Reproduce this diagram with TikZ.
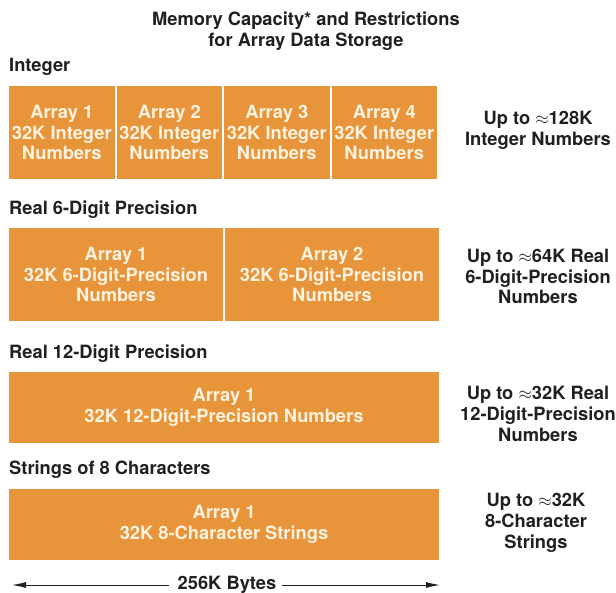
\documentclass[tikz,border=0pt]{standalone}
\usepackage{amsmath, amssymb}
\usepackage{fontspec}
\setmainfont{TeX Gyre Heros}
\usepackage{xcolor}
\usetikzlibrary{calc, arrows.meta}
\definecolor{memorange}{RGB}{232,148,58}
\definecolor{memcream}{RGB}{255,243,224}
\definecolor{meminkk}{RGB}{32,32,34}
\tikzset{
  memtxt/.style = {align=center, inner sep=0pt, text centered,
    font=\bfseries\fontsize{18.3}{20.7}\selectfont, text=meminkk},
  mem_box/.style = {memtxt, rectangle, fill=memorange, text=memcream,
    minimum height=93pt},% bloc de tableau, haut
  mem_bar/.style = {memtxt, rectangle, fill=memorange, text=memcream,
    minimum height=71pt, minimum width=430pt},% bloc de tableau, bas
  mem_hdr/.style = {memtxt, anchor=west},% titre de ligne
  mem_cap/.style = {memtxt}% capacite
}

\begin{document}
\begin{tikzpicture}[x=1pt, y=-1pt]
\useasboundingbox (0,0) rectangle (616,593);

\node[memtxt] (title) at (306,31) {Memory Capacity* and Restrictions\\for Array Data Storage};

% Integer
\node[mem_hdr] (h1) at (9,67) {Integer};
\foreach \k in {1,...,4}
  \node[mem_box, minimum width=105.5pt] (i\k) at ({9+107.5*(\k-1)+52.75},132.5)
    {Array \k\\32K Integer\\Numbers};
\node[mem_cap] (c1) at (538,130.5) {Up to $\approx$128K\\Integer Numbers};

% Real 6
\node[mem_hdr] (h2) at (9,210) {Real 6-Digit Precision};
\node[mem_box, minimum width=214pt] (r1) at (116,274.5) {Array 1\\32K 6-Digit-Precision\\Numbers};
\node[mem_box, minimum width=214pt] (r2) at (332,274.5) {Array 2\\32K 6-Digit-Precision\\Numbers};
\node[mem_cap] (c2) at (538,276.5) {Up to $\approx$64K Real\\6-Digit-Precision\\Numbers};

% Real 12
\node[mem_hdr] (h3) at (9,354) {Real 12-Digit Precision};
\node[mem_bar] (d1) at (224,407.5) {Array 1\\32K 12-Digit-Precision Numbers};
\node[mem_cap] (c3) at (538,414) {Up to $\approx$32K Real\\12-Digit-Precision\\Numbers};

% Strings
\node[mem_hdr] (h4) at (9,470) {Strings of 8 Characters};
\node[mem_bar] (s1) at (224,524.5) {Array 1\\32K 8-Character Strings};
\node[mem_cap] (c4) at (536,523) {Up to $\approx$32K\\8-Character\\Strings};

% 256K
\node[memtxt] (bytes) at (227,585) {256K Bytes};
\coordinate (bl) at (12,585);
\coordinate (br) at (440,585);
\draw[-{Latex[length=14pt, width=6pt]}, line width=1pt, meminkk] ($(bytes.west)+(-9,0)$) -- (bl);
\draw[-{Latex[length=14pt, width=6pt]}, line width=1pt, meminkk] ($(bytes.east)+(6,0)$) -- (br);
\end{tikzpicture}
\end{document}
